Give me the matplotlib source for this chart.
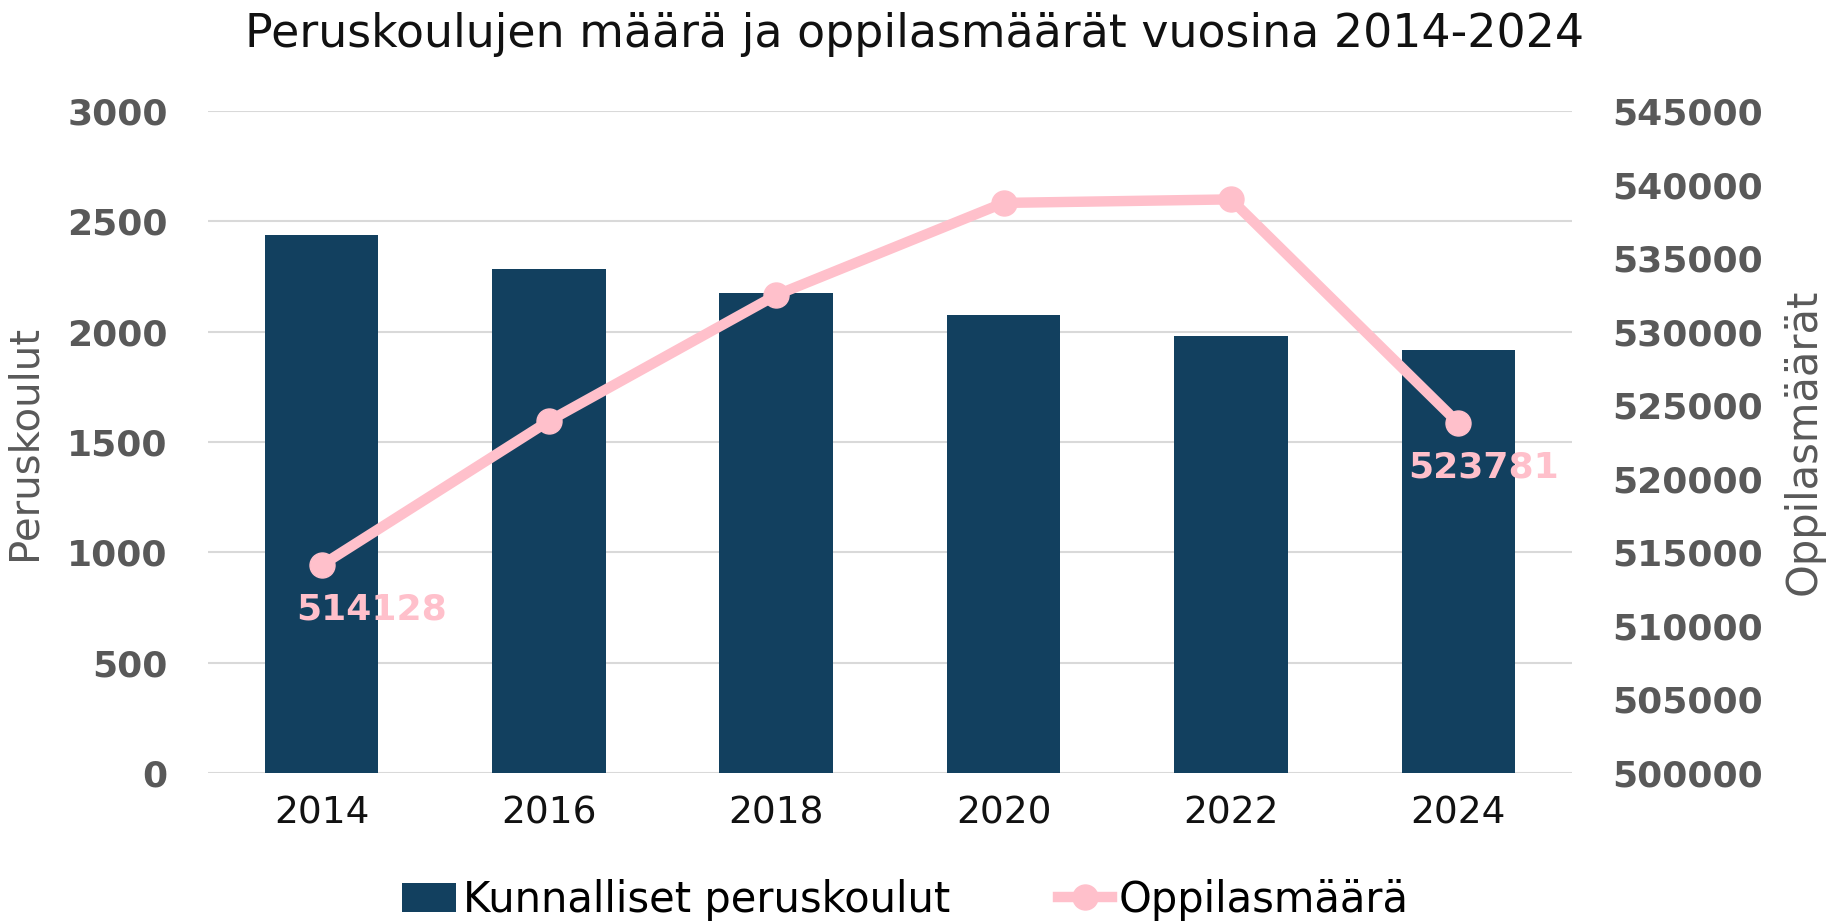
import matplotlib.pyplot as plt
import numpy as np

# data
years = ['2014', '2016', '2018', '2020', '2022', '2024']
schools = [2440, 2282, 2176, 2076, 1981, 1917]
pupils = [514128, 523930, 532490, 538750, 538990, 523781]

left_ticks = [0, 500, 1000, 1500, 2000, 2500, 3000]
right_ticks = list(range(500000, 545001, 5000))

bar_color = '#12405F'
pink = '#FFC0CB'
grey = '#595959'

fig = plt.figure(figsize=(18.29, 9.24), dpi=100)
ax = fig.add_axes([0.1137, 0.1634, 0.7458, 0.7165])
ax2 = ax.twinx()

x = np.arange(len(years))
bars = ax.bar(x, schools, width=0.5, color=bar_color, zorder=2,
              label='Kunnalliset peruskoulut')
line, = ax2.plot(x, pupils, color=pink, lw=7.5, marker='o', markersize=18,
                 zorder=3, label='Oppilasmäärä')

ax.set_xlim(-0.5, len(years) - 0.5)
ax.set_ylim(0, 3000)
ax2.set_ylim(500000, 545000)
ax.set_yticks(left_ticks)
ax2.set_yticks(right_ticks)
ax.set_xticks(x)
ax.set_xticklabels(years)

ax.grid(axis='y', color='#D9D9D9', lw=1.5, zorder=0)
ax.set_axisbelow(True)
for a in (ax, ax2):
    for s in a.spines.values():
        s.set_visible(False)
    a.tick_params(length=0)

ax.tick_params(axis='y', labelsize=26, labelcolor=grey, pad=29)
ax2.tick_params(axis='y', labelsize=26, labelcolor=grey, pad=29)
for t in ax.get_yticklabels() + ax2.get_yticklabels():
    t.set_fontweight('bold')
ax.tick_params(axis='x', labelsize=27, labelcolor='#111111', pad=16)

ax.set_ylabel('Peruskoulut', fontsize=29, color=grey, labelpad=16)
ax2.set_ylabel('Oppilasmäärät', fontsize=30, color=grey, labelpad=14)

# data labels on first and last point
for i, dx in ((0, 50), (len(years) - 1, 25)):
    ax2.annotate(str(pupils[i]), (x[i], pupils[i]), xytext=(dx * 0.72, -44 * 0.72),
                 textcoords='offset points', ha='center', va='center',
                 fontsize=26, fontweight='heavy', color=pink, zorder=4)

fig.suptitle('Peruskoulujen määrä ja oppilasmäärät vuosina 2014-2024',
             fontsize=33, y=0.963, va='center', color='#111111')

fig.legend(handles=[bars, line], loc='center', bbox_to_anchor=(0.495, 0.026),
           ncol=2, frameon=False, fontsize=30, handlelength=1.3,
           handletextpad=0.15, columnspacing=2.6)

fig.savefig('out.png', dpi=100)
